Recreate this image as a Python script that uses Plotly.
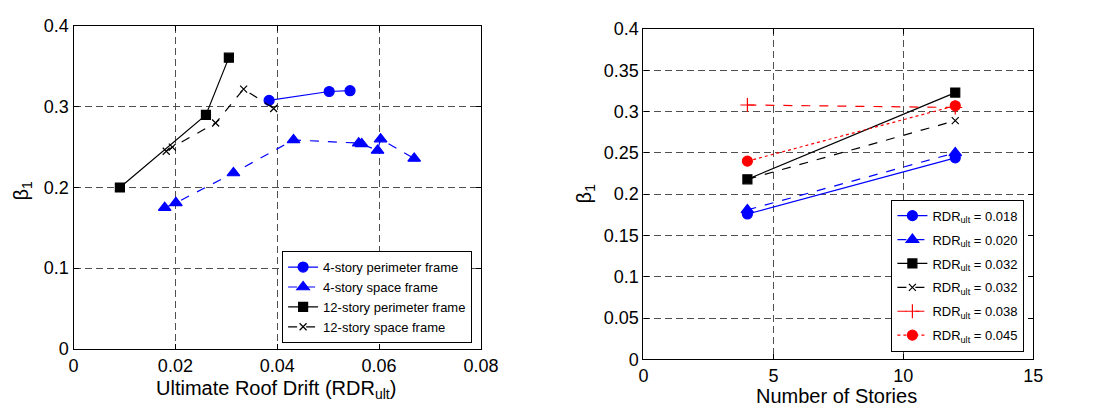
import plotly.graph_objects as go

# ---- Left panel data: beta_1 vs ultimate roof drift ----
p4_x = [0.0384, 0.0502, 0.0543]
p4_y = [0.308, 0.319, 0.320]
s4_x = [0.0179, 0.0201, 0.0314, 0.0432, 0.0560, 0.0566, 0.0597, 0.0603, 0.0669]
s4_y = [0.175, 0.181, 0.218, 0.259, 0.255, 0.254, 0.246, 0.260, 0.236]
p12_x = [0.0091, 0.0260, 0.0305]
p12_y = [0.200, 0.290, 0.361]
s12_x = [0.0182, 0.0194, 0.0279, 0.0334, 0.0393]
s12_y = [0.245, 0.250, 0.280, 0.322, 0.298]
left_names = ["4-story perimeter frame", "4-story space frame",
              "12-story perimeter frame", "12-story space frame"]

# ---- Right panel data: beta_1 vs number of stories ----
stories = [4, 12]
rdr_labels = ["0.018", "0.020", "0.032", "0.032", "0.038", "0.045"]
b_018 = [0.176, 0.244]
b_020 = [0.181, 0.250]
b_032a = [0.218, 0.323]
b_032b = [0.218, 0.289]
b_038 = [0.308, 0.305]
b_045 = [0.240, 0.307]

FONT = "Liberation Sans, Arial, sans-serif"
fig = go.Figure()

def add(x, y, name, color, dash, symbol, msize, xa, ya, legend, group):
    fig.add_trace(go.Scatter(
        x=x, y=y, name=name, mode="lines+markers",
        line=dict(color=color, width=1.2, dash=dash),
        marker=dict(symbol=symbol, size=msize, color=color,
                    line=dict(width=1.2, color=color)),
        xaxis=xa, yaxis=ya, legend=legend, legendgroup=group))

add(p4_x, p4_y, left_names[0], "#0000ff", "solid", "circle", 10, "x", "y", "legend", "a")
add(s4_x, s4_y, left_names[1], "#0000ff", "dash", "triangle-up", 11, "x", "y", "legend", "a")
add(p12_x, p12_y, left_names[2], "#000000", "solid", "square", 9, "x", "y", "legend", "a")
add(s12_x, s12_y, left_names[3], "#000000", "dash", "x-thin", 7, "x", "y", "legend", "a")

def rname(v):
    return "RDR<sub>ult</sub> = " + v

add(stories, b_018, rname(rdr_labels[0]), "#0000ff", "solid", "circle", 10, "x2", "y2", "legend2", "r1")
add(stories, b_020, rname(rdr_labels[1]), "#0000ff", "dash", "triangle-up", 11, "x2", "y2", "legend2", "r2")
add(stories, b_032a, rname(rdr_labels[2]), "#000000", "solid", "square", 9, "x2", "y2", "legend2", "r3")
add(stories, b_032b, rname(rdr_labels[3]), "#000000", "dash", "x-thin", 7, "x2", "y2", "legend2", "r4")
add(stories, b_038, rname(rdr_labels[4]), "#ff0000", "dash", "cross-thin", 10, "x2", "y2", "legend2", "r5")
add(stories, b_045, rname(rdr_labels[5]), "#ff0000", "dot", "circle", 10, "x2", "y2", "legend2", "r6")

W, H = 1108, 415
axis_common = dict(showline=True, linecolor="black", linewidth=1.3, mirror="ticks",
                   ticks="inside", ticklen=5, tickcolor="black",
                   showgrid=True, gridcolor="#505050", gridwidth=1, griddash="7px,4px",
                   zeroline=False, tickfont=dict(family=FONT, size=18, color="black"))

fig.update_layout(
    width=W, height=H, margin=dict(l=0, r=0, t=0, b=0),
    plot_bgcolor="white", paper_bgcolor="white",
    font=dict(family=FONT, color="black"),
    xaxis=dict(domain=[70 / W, 486 / W], range=[0, 0.08], tickvals=[0, 0.02, 0.04, 0.06, 0.08],
               ticktext=["0", "0.02", "0.04", "0.06", "0.08"], **axis_common),
    yaxis=dict(domain=[1 - 356 / H, 1 - 17 / H], range=[0, 0.4], tickvals=[0, 0.1, 0.2, 0.3, 0.4],
               ticktext=["0", "0.1", "0.2", "0.3", "0.4"], **axis_common),
    xaxis2=dict(domain=[652 / W, 1050 / W], range=[0, 15], tickvals=[0, 5, 10, 15],
                anchor="y2", **axis_common),
    yaxis2=dict(domain=[1 - 367 / H, 1 - 20 / H], range=[0, 0.4],
                tickvals=[0, 0.05, 0.1, 0.15, 0.2, 0.25, 0.3, 0.35, 0.4],
                ticktext=["0", "0.05", "0.1", "0.15", "0.2", "0.25", "0.3", "0.35", "0.4"],
                anchor="x2", **axis_common),
    legend=dict(x=477 / W, y=1 - 350 / H, xanchor="right", yanchor="bottom",
                bgcolor="white", bordercolor="black", borderwidth=1,
                font=dict(family=FONT, size=13, color="black"), tracegroupgap=0),
    legend2=dict(x=1041 / W, y=1 - 359 / H, xanchor="right", yanchor="bottom",
                 bgcolor="white", bordercolor="black", borderwidth=1,
                 font=dict(family=FONT, size=13, color="black"), tracegroupgap=4),
    showlegend=True,
    annotations=[
        dict(text="Ultimate Roof Drift (RDR<sub>ult</sub>)", x=277 / W, y=1 - 383 / H,
             xref="paper", yref="paper", xanchor="center", yanchor="top", showarrow=False,
             font=dict(family=FONT, size=20)),
        dict(text="Number of Stories", x=849 / W, y=1 - 392 / H,
             xref="paper", yref="paper", xanchor="center", yanchor="top", showarrow=False,
             font=dict(family=FONT, size=20)),
        dict(text="β<sub>1</sub>", x=18 / W, y=1 - 190 / H, textangle=-90,
             xref="paper", yref="paper", xanchor="center", yanchor="middle", showarrow=False,
             font=dict(family=FONT, size=20)),
        dict(text="β<sub>1</sub>", x=593 / W, y=1 - 193 / H, textangle=-90,
             xref="paper", yref="paper", xanchor="center", yanchor="middle", showarrow=False,
             font=dict(family=FONT, size=20)),
    ],
)

fig.write_html("out.html")
